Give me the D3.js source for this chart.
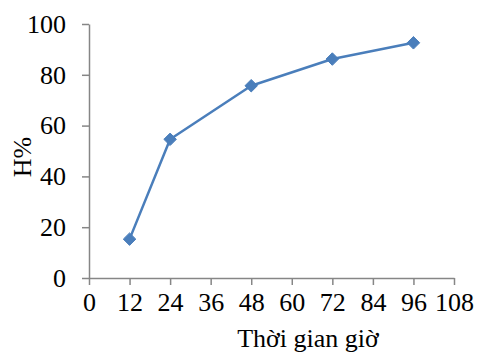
<!DOCTYPE html>
<html>
<head>
<meta charset="utf-8">
<script src="https://cdn.jsdelivr.net/npm/d3@7"></script>
<style>
  html, body { margin: 0; padding: 0; background: #fff; }
  svg { display: block; }
  text { font-family: "Liberation Serif", "Times New Roman", serif; fill: #000; }
</style>
</head>
<body>
<div id="chart"></div>
<script>
// Hiệu suất H% theo thời gian (giờ)
const hours = [12, 24, 48, 72, 96];
const hValues = [15.3, 54.6, 75.7, 86.2, 92.6];
const xTicks = [0, 12, 24, 36, 48, 60, 72, 84, 96, 108];
const yTicks = [0, 20, 40, 60, 80, 100];
const xTitle = "Thời gian giờ";
const yTitle = "H%";

const W = 477, H = 354;
const margin = { left: 89, top: 24, right: 23, bottom: 76 };
const fontSize = "26px";

const svg = d3.select("#chart").append("svg")
  .attr("width", W).attr("height", H);

const x = d3.scaleLinear().domain([0, 108]).range([margin.left, W - margin.right]);
const y = d3.scaleLinear().domain([0, 100]).range([H - margin.bottom, margin.top]);

const axisColor = "#868686";

// x axis
const gx = svg.append("g")
  .attr("transform", `translate(0,${y(0)})`)
  .call(d3.axisBottom(x).tickValues(xTicks).tickSize(7).tickPadding(8).tickSizeOuter(0));
// y axis
const gy = svg.append("g")
  .attr("transform", `translate(${x(0)},0)`)
  .call(d3.axisLeft(y).tickValues(yTicks).tickSize(7).tickPadding(16).tickSizeOuter(0));

[gx, gy].forEach(g => {
  g.select(".domain").attr("stroke", axisColor).attr("stroke-width", 1.5);
  g.selectAll(".tick line").attr("stroke", axisColor).attr("stroke-width", 1.5);
  g.selectAll(".tick text")
    .style("font-family", '"Liberation Serif", "Times New Roman", serif')
    .style("font-size", fontSize).attr("fill", "#000");
});

// axis titles
svg.append("text")
  .attr("x", 308).attr("y", 347)
  .attr("text-anchor", "middle")
  .style("font-size", fontSize)
  .text(xTitle);

svg.append("text")
  .attr("transform", "translate(31,157) rotate(-90)")
  .attr("text-anchor", "middle")
  .style("font-size", fontSize)
  .text(yTitle);

// data line
const color = "#4a7ebb";
const line = d3.line().x((d, i) => x(hours[i])).y(d => y(d));
svg.append("path")
  .datum(hValues)
  .attr("fill", "none")
  .attr("stroke", color)
  .attr("stroke-width", 2.5)
  .attr("stroke-linejoin", "round")
  .attr("d", line);

// diamond markers
svg.selectAll(".pt")
  .data(hValues)
  .enter().append("path")
  .attr("class", "pt")
  .attr("transform", (d, i) => `translate(${x(hours[i])},${y(d)})`)
  .attr("d", d3.symbol().type(d3.symbolDiamond2).size(100))
  .attr("fill", color)
  .attr("stroke", color)
  .attr("stroke-width", 1);
</script>
</body>
</html>
